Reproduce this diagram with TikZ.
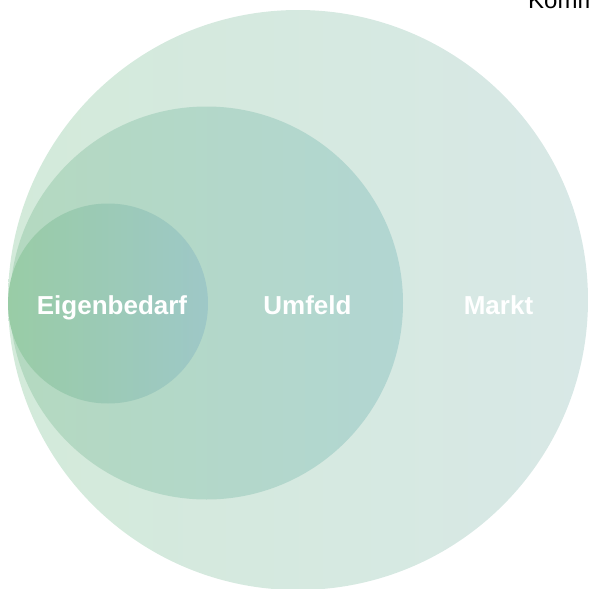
\documentclass[tikz,border=0pt]{standalone}
\usepackage{fontspec}
\setmainfont{Liberation Sans}
\begin{document}
\begin{tikzpicture}[x=1pt,y=-1pt,
  lbl/.style={text=white,font=\fontsize{26}{30}\selectfont\bfseries,anchor=base,inner sep=0pt}]
\useasboundingbox (0,0) rectangle (589,589);
\begin{scope}
\clip (0,0) rectangle (589,589);
\shade[left color={rgb,255:red,211;green,234;blue,218}, right color={rgb,255:red,216;green,232;blue,230}] (298,300) circle (290);
\shade[left color={rgb,255:red,180;green,217;blue,192}, right color={rgb,255:red,178;green,214;blue,210}] (206.5,303) circle (196.5);
\shade[left color={rgb,255:red,153;green,204;blue,166}, right color={rgb,255:red,158;green,200;blue,199}] (108,303.5) circle (100);
\node[lbl] (eigen) at (112,314) {Eigenbedarf};
\node[lbl] (umfeld) at (307.5,314) {Umfeld};
\node[lbl] (markt) at (498.5,314) {Markt};
\node[anchor=base west,inner sep=0pt,font=\fontsize{24}{28}\selectfont] (komm) at (528,9) {Komm};
\end{scope}
\end{tikzpicture}
\end{document}
